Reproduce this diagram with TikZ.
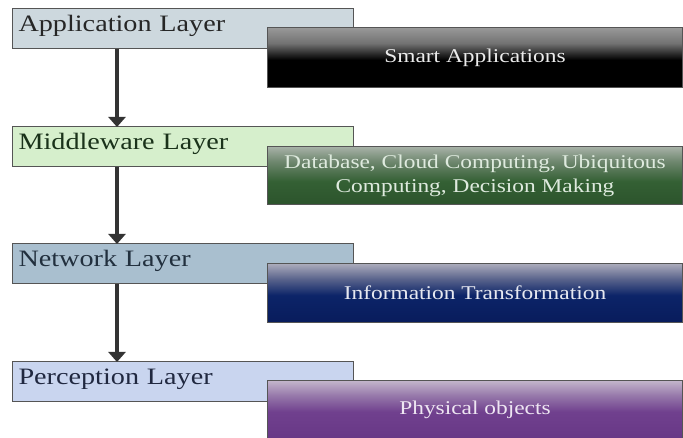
\documentclass[tikz,border=0pt]{standalone}
\usepackage{fontspec}
\setmainfont{Liberation Serif}
\newfontfamily\stretchfont[FakeStretch=1.2]{Liberation Serif}
\usetikzlibrary{arrows.meta}
\definecolor{appfill}{HTML}{CDD8DE}
\definecolor{midfill}{HTML}{D6EFCC}
\definecolor{netfill}{HTML}{A9BFCF}
\definecolor{perfill}{HTML}{C9D5EF}
\definecolor{edgegray}{HTML}{555555}
\definecolor{arrowgray}{HTML}{333333}
\pgfdeclareverticalshading{smartshade}{100bp}{color(0bp)=(black); color(25bp)=(black); color(48bp)=(black);
  color(62bp)=(black!55); color(75bp)=(black!40); color(100bp)=(black!40)}
\pgfdeclareverticalshading{dbshade}{100bp}{color(0bp)=(rgb,255:red,44;green,84;blue,44); color(25bp)=(rgb,255:red,44;green,84;blue,44);
  color(45bp)=(rgb,255:red,52;green,96;blue,52); color(62bp)=(rgb,255:red,110;green,135;blue,110); color(75bp)=(rgb,255:red,168;green,178;blue,168); color(100bp)=(rgb,255:red,168;green,178;blue,168)}
\pgfdeclareverticalshading{infoshade}{100bp}{color(0bp)=(rgb,255:red,8;green,28;blue,92); color(25bp)=(rgb,255:red,8;green,28;blue,92);
  color(48bp)=(rgb,255:red,12;green,36;blue,104); color(62bp)=(rgb,255:red,90;green,100;blue,140); color(75bp)=(rgb,255:red,172;green,172;blue,188); color(100bp)=(rgb,255:red,172;green,172;blue,188)}
\pgfdeclareverticalshading{physshade}{100bp}{color(0bp)=(rgb,255:red,104;green,56;blue,134); color(25bp)=(rgb,255:red,104;green,56;blue,134);
  color(48bp)=(rgb,255:red,112;green,64;blue,142); color(62bp)=(rgb,255:red,150;green,120;blue,170); color(75bp)=(rgb,255:red,196;green,182;blue,204); color(100bp)=(rgb,255:red,196;green,182;blue,204)}
\tikzset{
  layerbox/.style={draw=edgegray, line width=1pt, anchor=north west,
    minimum width=341pt, minimum height=40pt, inner xsep=6pt,
    text width=329pt, align=left, text height=13.5pt, text depth=7.5pt,
    font=\fontsize{23.5}{26}\stretchfont},
  rightbox/.style={draw=edgegray, line width=1pt, anchor=north west,
    minimum width=415pt, align=center,
    font=\fontsize{19.5}{24}\stretchfont},
  flow/.style={draw=arrowgray, line width=4.5pt,
    -{Triangle[width=17pt,length=10pt]}, shorten >=-1pt}
}
\begin{document}
\begin{tikzpicture}[x=1pt,y=-1pt]
\useasboundingbox[fill=white] (0,0) rectangle (683,438);
% layer boxes
\node[layerbox, fill=appfill, text=black!85] (app) at (12,8) {Application Layer};
\node[layerbox, fill=midfill, text={rgb,255:red,26;green,50;blue,26}] (mid) at (12,126) {Middleware Layer};
\node[layerbox, fill=netfill, text={rgb,255:red,34;green,48;blue,62}] (net) at (12,243) {Network Layer};
\node[layerbox, fill=perfill, text={rgb,255:red,32;green,40;blue,64}] (per) at (12,361) {Perception Layer};
% right boxes
\node[rightbox, minimum height=60pt, shading=smartshade, text={rgb,255:red,235;green,235;blue,235}]
  (smart) at (267,27) {Smart Applications};
\node[rightbox, minimum height=58pt, shading=dbshade, text={rgb,255:red,222;green,234;blue,222}]
  (db) at (267,146) {Database, Cloud Computing, Ubiquitous\\Computing, Decision Making};
\node[rightbox, minimum height=59pt, shading=infoshade, text={rgb,255:red,230;green,232;blue,240}]
  (info) at (267,263) {Information Transformation};
\node[rightbox, minimum height=58pt, shading=physshade, text={rgb,255:red,238;green,230;blue,242}]
  (phys) at (267,380) {Physical objects};
% arrows
\coordinate (a1) at ([xshift=105pt]app.south west);
\coordinate (a2) at ([xshift=105pt]mid.north west);
\coordinate (a3) at ([xshift=105pt]mid.south west);
\coordinate (a4) at ([xshift=105pt]net.north west);
\coordinate (a5) at ([xshift=105pt]net.south west);
\coordinate (a6) at ([xshift=105pt]per.north west);
\draw[flow] (a1) -- (a2);
\draw[flow] (a3) -- (a4);
\draw[flow] (a5) -- (a6);
\end{tikzpicture}
\end{document}
